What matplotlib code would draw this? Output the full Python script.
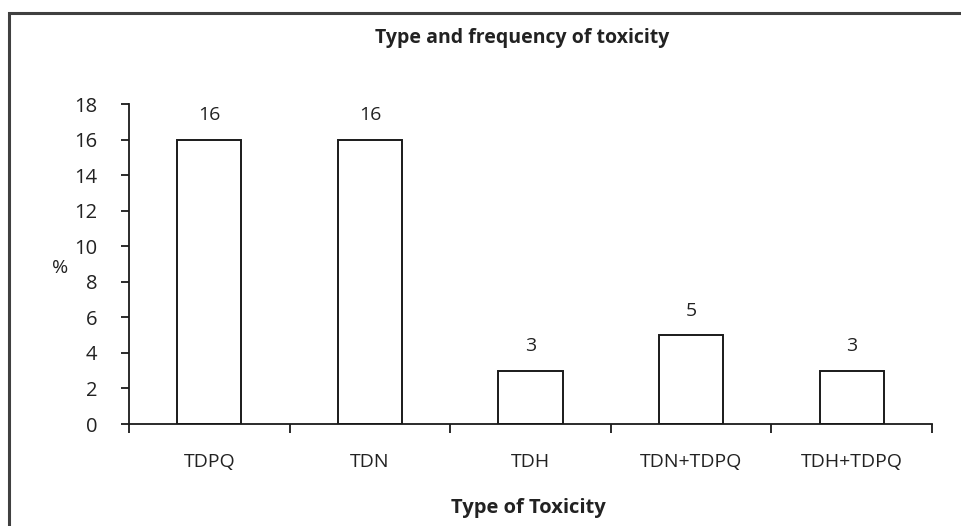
import matplotlib.pyplot as plt
import matplotlib.patches as mpatches

plt.rcParams['font.family'] = ['Open Sans', 'DejaVu Sans']

categories = ['TDPQ', 'TDN', 'TDH', 'TDN+TDPQ', 'TDH+TDPQ']
values = [16, 16, 3, 5, 3]
yticks = [0, 2, 4, 6, 8, 10, 12, 14, 16, 18]

W, H = 962, 526
TXT = '#222222'
fig = plt.figure(figsize=(W / 100, H / 100), dpi=100)
ax = fig.add_axes([129 / W, 1 - 424 / H, (932 - 129) / W, (424 - 104) / H])

x = list(range(len(categories)))
ax.bar(x, values, width=0.4, color='white', edgecolor='#1a1a1a', linewidth=1.4)
for xi, v in zip(x, values):
    ax.annotate(str(v), (xi, v), xytext=(0, 14), textcoords='offset points',
                ha='center', va='baseline', fontsize=14, color=TXT)

ax.set_xlim(-0.5, len(categories) - 0.5)
ax.set_ylim(0, 18)
ax.set_yticks(yticks)
ax.set_xticks([i - 0.5 for i in range(len(categories) + 1)])
ax.set_xticklabels([])
ax.set_xticks(x, minor=True)
ax.set_xticklabels(categories, minor=True)
ax.tick_params(axis='x', which='major', direction='out', length=6.5, width=1.3, color='#1a1a1a')
ax.tick_params(axis='x', which='minor', length=0, pad=21, labelsize=14, labelcolor=TXT)
ax.tick_params(axis='y', direction='out', length=6, width=1.3, pad=17, labelsize=14.5,
               labelcolor=TXT, color='#1a1a1a')
for s in ['top', 'right']:
    ax.spines[s].set_visible(False)
for s in ['left', 'bottom']:
    ax.spines[s].set_linewidth(1.3)
    ax.spines[s].set_color('#1a1a1a')

fig.text(522 / W, 1 - 43 / H, 'Type and frequency of toxicity', ha='center', va='baseline',
         fontsize=14, fontweight='bold', color=TXT)
fig.text(528 / W, 1 - 513 / H, 'Type of Toxicity', ha='center', va='baseline',
         fontsize=14.5, fontweight='bold', color=TXT)
fig.text(60 / W, 1 - 268 / H, '%', ha='center', va='center', fontsize=14, color=TXT)

frame = mpatches.Rectangle((9 / W, -0.1), 2.0, 1 - 13 / H + 0.1, transform=fig.transFigure,
                           fill=False, edgecolor='#404040', linewidth=2.2, clip_on=False)
fig.patches.append(frame)

fig.savefig('out.png', dpi=100)
